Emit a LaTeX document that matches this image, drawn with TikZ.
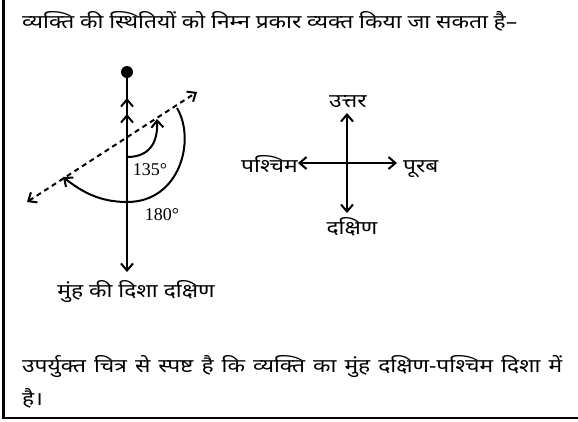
\documentclass[tikz,border=0pt]{standalone}
\usepackage{fontspec}
\newfontfamily\hindi[Script=Devanagari, FakeStretch=1.2]{Noto Sans}
\newfontfamily\degfont{Liberation Serif}
\usetikzlibrary{arrows.meta}
\begin{document}
\begin{tikzpicture}[x=1pt,y=-1pt,
  txt/.style={font=\hindi\fontsize{19}{22}\selectfont, inner sep=0pt, anchor=base west},
  lbl/.style={font=\hindi\fontsize{19}{22}\selectfont, inner sep=0pt},
  deg/.style={font=\degfont\fontsize{18}{20}\selectfont, inner sep=0pt},
  ln/.style={line width=2pt},
  barb/.style={-{Straight Barb[length=7pt,width=12pt,line width=2pt]}},
  dbarb/.style={{Straight Barb[length=7pt,width=12pt,line width=2pt]}-{Straight Barb[length=7pt,width=12pt,line width=2pt]}}
]
\useasboundingbox (0,0) rectangle (578,421);
% frame
\draw[line width=3pt] (3.5,0) -- (3.5,419) coordinate (bl);
\draw[line width=2pt] (2,418) -- (578,418);

% texts
\node[txt] (head) at (22,28) {\makebox[495pt][s]{व्यक्ति की स्थितियों को निम्न प्रकार व्यक्त किया जा सकता है–}};
\node[txt] (l1) at (22,372) {\makebox[540pt][s]{उपर्युक्त चित्र से स्पष्ट है कि व्यक्ति का मुंह दक्षिण-पश्चिम दिशा में}};
\node[txt] (l2) at (22,405) {है।};

% person diagram
\coordinate (top) at (127,72);
\coordinate (bot) at (127,272);
\fill (top) circle (6);
\draw[ln, barb] (top) -- (bot);
\coordinate (c1a) at (127,110); \coordinate (c1b) at (127,98);
\coordinate (c2a) at (127,126); \coordinate (c2b) at (127,114);
\draw[ln, barb] (c1a) -- (c1b);
\draw[ln, barb] (c2a) -- (c2b);
\coordinate (dsw) at (27,202);
\coordinate (dne) at (197,92);
\draw[ln, dbarb, dash pattern=on 5pt off 4pt] (dsw) -- (dne);
% small arc 135
\coordinate (s0) at (127,157);
\coordinate (s1) at (157,119);
\draw[ln, barb] (s0) .. controls (150,157) and (158,142) .. (s1);
% large arc 180
\coordinate (b0) at (177,108);
\coordinate (bm) at (127,202);
\coordinate (b1) at (63,177);
\draw[ln, barb] (b0) .. controls (196,140) and (180,202) .. (bm) .. controls (100,202) and (82,192) .. (b1);
\node[deg] (d135) at (150,170) {135°};
\node[deg] (d180) at (162,215) {180°};
\node[lbl, anchor=base] (cap) at (136,297) {मुंह की दिशा दक्षिण};

% compass
\coordinate (cc) at (347,163);
\coordinate (cn) at (347,113);
\coordinate (cs) at (347,213);
\coordinate (cw) at (298,163);
\coordinate (ce) at (397,163);
\draw[ln, barb] (cc) -- (cn);
\draw[ln, barb] (cc) -- (cs);
\draw[ln, barb] (cc) -- (cw);
\draw[ln, barb] (cc) -- (ce);
\node[lbl, anchor=base] (north) at (348,107) {उत्तर};
\node[lbl, anchor=base east] (west) at (298,172) {पश्चिम};
\node[lbl, anchor=base west] (east) at (403,172) {पूरब};
\node[lbl, anchor=base] (south) at (352,234) {दक्षिण};
\end{tikzpicture}
\end{document}
